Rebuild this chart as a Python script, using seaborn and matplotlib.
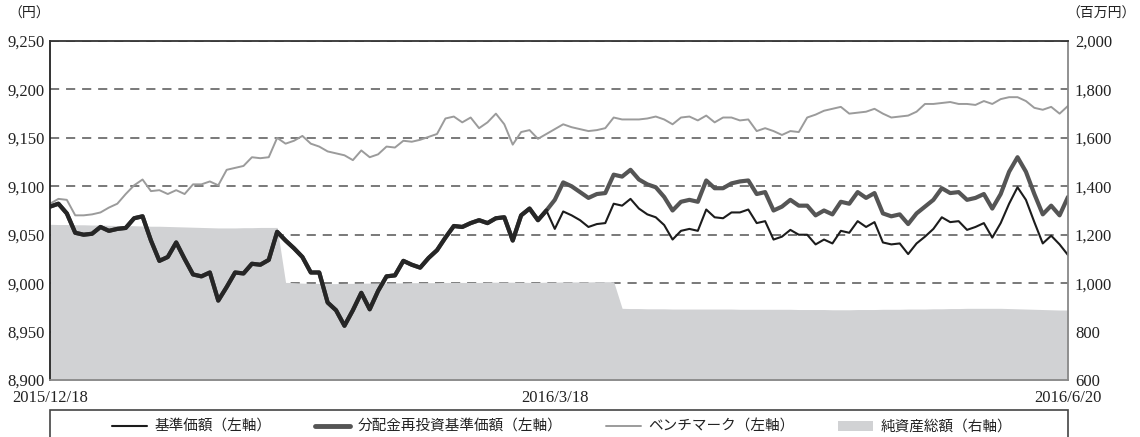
import numpy as np
import pandas as pd
import matplotlib
matplotlib.use('Agg')
import matplotlib.pyplot as plt
import seaborn as sns
from matplotlib.lines import Line2D
from matplotlib.patches import Patch, Rectangle
from matplotlib.ticker import FuncFormatter

# Japanese business days between the two end dates
jp_holidays = ['2015-12-23', '2015-12-31', '2016-01-01', '2016-01-11', '2016-02-11',
               '2016-03-21', '2016-04-29', '2016-05-03', '2016-05-04', '2016-05-05']
dates = pd.bdate_range('2015-12-18', '2016-06-20', freq='C', holidays=jp_holidays)
tick_dates = ['2015-12-18', '2016-03-18', '2016-06-20']
distribution_date = '2016-03-18'

# 基準価額 (yen)
nav = [9079, 9082, 9072, 9052, 9050, 9051, 9058, 9054, 9056, 9057,
       9067, 9069, 9044, 9023, 9027, 9042, 9025, 9009, 9007, 9011,
       8982, 8996, 9011, 9010, 9020, 9019, 9024, 9053, 9044, 9036,
       9027, 9011, 9011, 8980, 8972, 8956, 8972, 8990, 8973, 8992,
       9007, 9008, 9023, 9019, 9016, 9026, 9034, 9047, 9059, 9058,
       9062, 9065, 9062, 9067, 9068, 9044, 9070, 9077, 9065, 9075,
       9056, 9074, 9070, 9065, 9058, 9061, 9062, 9082, 9080, 9087,
       9077, 9071, 9068, 9060, 9045, 9054, 9056, 9054, 9076, 9068,
       9067, 9073, 9073, 9076, 9062, 9064, 9045, 9048, 9055, 9050,
       9050, 9040, 9045, 9041, 9054, 9052, 9064, 9058, 9063, 9042,
       9040, 9041, 9030, 9041, 9048, 9056, 9068, 9063, 9064, 9055,
       9058, 9062, 9047, 9062, 9082, 9099, 9086, 9063, 9041, 9049,
       9040, 9029]

# 分配金再投資基準価額 (yen)
reinvest = [9079, 9082, 9072, 9052, 9050, 9051, 9058, 9054, 9056, 9057,
            9067, 9069, 9044, 9023, 9027, 9042, 9025, 9009, 9007, 9011,
            8982, 8996, 9011, 9010, 9020, 9019, 9024, 9053, 9044, 9036,
            9027, 9011, 9011, 8980, 8972, 8956, 8972, 8990, 8973, 8992,
            9007, 9008, 9023, 9019, 9016, 9026, 9034, 9047, 9059, 9058,
            9062, 9065, 9062, 9067, 9068, 9044, 9070, 9077, 9065, 9075,
            9086, 9104, 9100, 9094, 9088, 9092, 9093, 9112, 9110, 9117,
            9107, 9102, 9099, 9089, 9075, 9084, 9086, 9084, 9106, 9098,
            9098, 9103, 9105, 9106, 9092, 9094, 9075, 9079, 9086, 9080,
            9080, 9070, 9075, 9071, 9084, 9082, 9094, 9088, 9093, 9072,
            9069, 9071, 9061, 9072, 9079, 9086, 9098, 9093, 9094, 9086,
            9088, 9092, 9077, 9092, 9115, 9130, 9115, 9092, 9071, 9080,
            9070, 9089]

# ベンチマーク (yen)
benchmark = [9082, 9087, 9086, 9070, 9070, 9071, 9073, 9078, 9082, 9092,
             9101, 9107, 9095, 9096, 9092, 9096, 9092, 9102, 9102, 9105,
             9101, 9117, 9119, 9121, 9130, 9129, 9130, 9150, 9144, 9147,
             9152, 9144, 9141, 9136, 9134, 9132, 9127, 9137, 9130, 9133,
             9141, 9140, 9147, 9146, 9148, 9151, 9154, 9170, 9172, 9166,
             9171, 9160, 9166, 9175, 9164, 9143, 9156, 9158, 9149, 9154,
             9159, 9164, 9161, 9159, 9157, 9158, 9160, 9171, 9169, 9169,
             9169, 9170, 9172, 9169, 9164, 9171, 9172, 9168, 9173, 9166,
             9171, 9171, 9168, 9169, 9157, 9160, 9157, 9153, 9157, 9156,
             9171, 9174, 9178, 9180, 9182, 9175, 9176, 9177, 9180, 9175,
             9171, 9172, 9173, 9177, 9185, 9185, 9186, 9187, 9185, 9185,
             9184, 9188, 9185, 9190, 9192, 9192, 9188, 9181, 9179, 9182,
             9175, 9183]

# 純資産総額 (million yen)
net_assets = [1243, 1242, 1242, 1241, 1241, 1240, 1240, 1239, 1238, 1238,
              1237, 1236, 1235, 1235, 1234, 1233, 1232, 1231, 1230, 1229,
              1228, 1228, 1228, 1229, 1229, 1230, 1230, 1230,
              1003, 1002, 1000, 999, 999, 998, 998, 999, 999, 1000,
              1000, 1000, 1001, 1001, 1001, 1002, 1002, 1002, 1002, 1003,
              1003, 1003, 1003, 1003, 1004, 1004, 1004, 1004, 1004, 1003,
              1003, 1004, 1004, 1005, 1005, 1005, 1005, 1006, 1006, 1006,
              896, 895, 895, 894, 894, 894, 893, 893, 893, 893,
              893, 893, 893, 893, 892, 892, 892, 892, 892, 892,
              892, 891, 891, 891, 891, 890, 890, 890, 891, 891,
              891, 892, 892, 892, 893, 893, 893, 894, 894, 895,
              895, 896, 896, 896, 896, 896, 895, 894, 893, 892,
              891, 890, 889, 889]

labels = ['基準価額（左軸）', '分配金再投資基準価額（左軸）', 'ベンチマーク（左軸）', '純資産総額（右軸）']

df = pd.DataFrame({'pos': np.arange(len(dates)), 'date': dates, 'nav': nav,
                   'reinvest': reinvest, 'bench': benchmark, 'assets': net_assets})

sns.set_style('white')
plt.rcParams['font.family'] = ['Liberation Serif', 'Noto Sans CJK JP']

W, H = 1140, 437
fig = plt.figure(figsize=(W / 100, H / 100), dpi=100)
ax = fig.add_axes([50 / W, 57 / H, 1018 / W, 339 / H])
ax_r = ax.twinx()
ax.set_zorder(ax_r.get_zorder() + 1)
ax.patch.set_visible(False)

# net assets area with the dashed grid underneath it
ax_r.fill_between(df['pos'], 0, df['assets'], color='#d1d2d4', lw=0, zorder=1)
ax_r.set_ylim(600, 2000)
ax_r.set_yticks(np.arange(600, 2001, 200))
ax_r.set_axisbelow(True)
ax_r.grid(axis='y', linestyle=(0, (6, 4.5)), color='#555555', linewidth=1.1)
ax_r.yaxis.set_major_formatter(FuncFormatter(lambda v, p: f'{v:,.0f}'))
ax_r.tick_params(axis='y', length=0, pad=5, labelsize=12, labelcolor='#222222')
for s in ax_r.spines.values():
    s.set_visible(False)

# price lines
sns.lineplot(data=df, x='pos', y='reinvest', ax=ax, color='#555555', linewidth=3.0)
sns.lineplot(data=df, x='pos', y='bench', ax=ax, color='#9b9b9b', linewidth=1.4)
sns.lineplot(data=df, x='pos', y='nav', ax=ax, color='#1c1c1c', linewidth=1.5)
before = df[df['date'] < distribution_date]
sns.lineplot(data=before, x='pos', y='nav', ax=ax, color='#262626', linewidth=3.0)

ax.set_xlim(df['pos'].iloc[0], df['pos'].iloc[-1])
ax.set_ylim(8900, 9250)
ax.set_yticks(np.arange(8900, 9251, 50))
ax.yaxis.set_major_formatter(FuncFormatter(lambda v, p: f'{v:,.0f}'))
ax.tick_params(axis='y', length=0, pad=4, labelsize=12, labelcolor='#222222')
ax.set_xlabel('')
ax.set_ylabel('')
ax_r.set_ylabel('')

tick_rows = df[df['date'].isin(pd.to_datetime(tick_dates))]
ax.set_xticks(tick_rows['pos'])
ax.set_xticklabels([f'{d.year}/{d.month}/{d.day}' for d in tick_rows['date']])
ax.tick_params(axis='x', direction='in', length=6, width=1.2, color='#888888',
               pad=7, labelsize=12, labelcolor='#222222')

ax.spines['left'].set_color('#222222')
ax.spines['top'].set_color('#333333')
ax.spines['right'].set_color('#888888')
ax.spines['bottom'].set_color('#888888')
for s in ax.spines.values():
    s.set_linewidth(1.3)

fig.text(8 / W, 1 - 14 / H, '（円）', fontsize=10, va='center', ha='left', color='#222222')
fig.text(1066 / W, 1 - 14 / H, '（百万円）', fontsize=10, va='center', ha='left', color='#222222')

handles = [Line2D([], [], color='#1c1c1c', linewidth=1.5),
           Line2D([], [], color='#555555', linewidth=3.5),
           Line2D([], [], color='#9b9b9b', linewidth=1.4),
           Patch(facecolor='#d1d2d4', edgecolor='none')]
fig.legend(handles, labels, loc='center', bbox_to_anchor=(562 / W, 1 - 427 / H), ncol=4,
           frameon=False, fontsize=10.5, handlelength=2.4, handletextpad=0.5,
           columnspacing=3.0, labelcolor='#222222')
fig.patches.append(Rectangle((50 / W, -0.05), 1018 / W, 0.05 + (H - 410) / H,
                             transform=fig.transFigure, fill=False,
                             edgecolor='#444444', linewidth=1.2))

fig.savefig('out.png', dpi=100)
